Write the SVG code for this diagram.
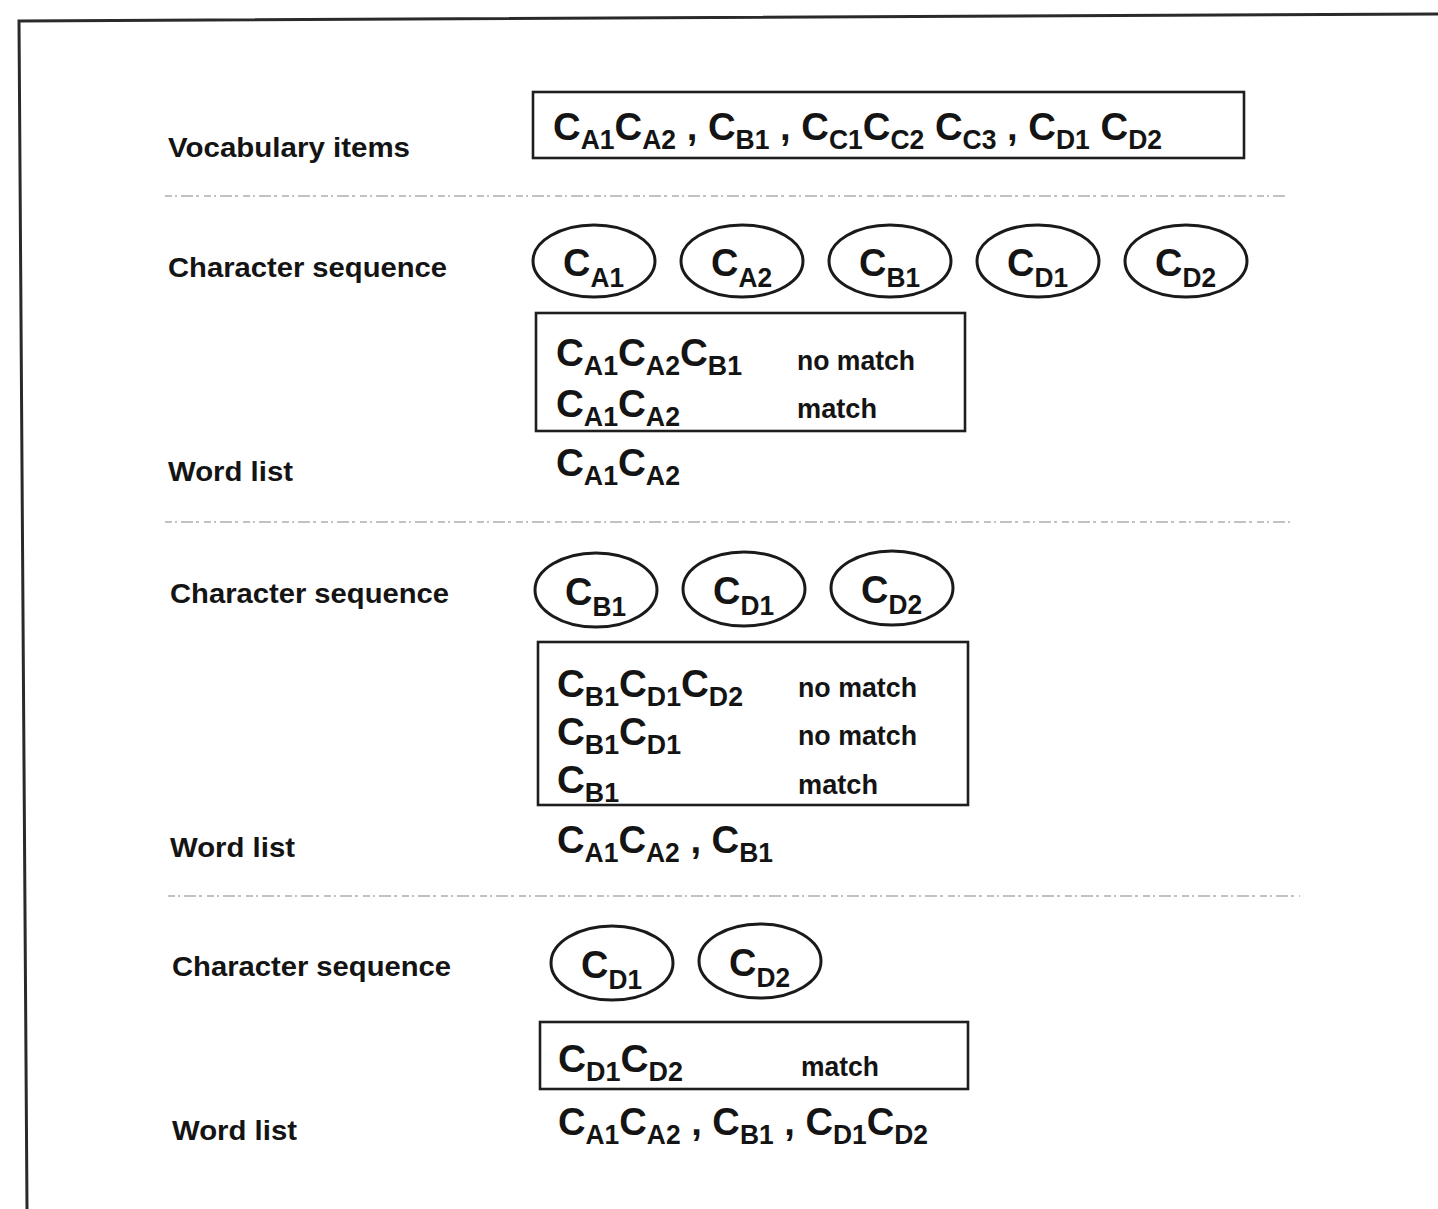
<svg xmlns="http://www.w3.org/2000/svg" width="1438" height="1209" viewBox="0 0 1438 1209">
  <style>
    .lbl { font-family: "Liberation Sans", Arial, sans-serif; font-weight: bold; font-size: 28.5px; fill: #141414; }
    .f { font-family: "Liberation Sans", Arial, sans-serif; font-weight: bold; font-size: 39px; fill: #141414; }
    .s { font-size: 27px; }
    .res { font-family: "Liberation Sans", Arial, sans-serif; font-weight: bold; font-size: 27px; fill: #141414; }
    .box { fill: none; stroke: #1e1e1e; stroke-width: 2.6; }
    .ell { fill: none; stroke: #1a1a1a; stroke-width: 3; }
    .sep { fill: none; stroke: #8a8a8a; stroke-width: 1.6; stroke-dasharray: 7 3 2 4 12 3 3 5; opacity: 0.7; }
    .frame { fill: none; stroke: #2a2a2a; stroke-width: 3; }
  </style>

  <rect width="1438" height="1209" fill="#ffffff"/>

  <!-- page frame -->
  <polyline class="frame" points="1438,14 19,21 27,1209"/>

  <!-- dotted separators between the steps -->
  <g id="separators">
    <line class="sep" x1="165" y1="196" x2="1285" y2="196"/>
    <line class="sep" x1="165" y1="522" x2="1290" y2="522"/>
    <line class="sep" x1="168" y1="896" x2="1300" y2="896"/>
  </g>

  <!-- row labels -->
  <g id="labels">
    <text class="lbl" x="168" y="157" textLength="242" lengthAdjust="spacingAndGlyphs">Vocabulary items</text>
    <text class="lbl" x="168" y="277" textLength="279" lengthAdjust="spacingAndGlyphs">Character sequence</text>
    <text class="lbl" x="168" y="481" textLength="125" lengthAdjust="spacingAndGlyphs">Word list</text>
    <text class="lbl" x="170" y="603" textLength="279" lengthAdjust="spacingAndGlyphs">Character sequence</text>
    <text class="lbl" x="170" y="857" textLength="125" lengthAdjust="spacingAndGlyphs">Word list</text>
    <text class="lbl" x="172" y="976" textLength="279" lengthAdjust="spacingAndGlyphs">Character sequence</text>
    <text class="lbl" x="172" y="1140" textLength="125" lengthAdjust="spacingAndGlyphs">Word list</text>
  </g>

  <!-- vocabulary -->
  <g id="vocabulary">
    <rect class="box" x="533" y="92" width="711" height="66"/>
    <text class="f" x="553" y="140" textLength="609" lengthAdjust="spacingAndGlyphs">C<tspan class="s" dy="9">A1</tspan><tspan dy="-9">C</tspan><tspan class="s" dy="9">A2</tspan><tspan dy="-9"> , C</tspan><tspan class="s" dy="9">B1</tspan><tspan dy="-9"> , C</tspan><tspan class="s" dy="9">C1</tspan><tspan dy="-9">C</tspan><tspan class="s" dy="9">C2</tspan><tspan dy="-9"> C</tspan><tspan class="s" dy="9">C3</tspan><tspan dy="-9"> , C</tspan><tspan class="s" dy="9">D1</tspan><tspan dy="-9"> C</tspan><tspan class="s" dy="9">D2</tspan></text>
  </g>

  <!-- step 1: character sequence -->
  <g id="seq1-a1"><ellipse class="ell" cx="594" cy="261" rx="61" ry="36"/><text class="f" x="563" y="276" textLength="61" lengthAdjust="spacingAndGlyphs">C<tspan class="s" dy="11">A1</tspan></text></g>
  <g id="seq1-a2"><ellipse class="ell" cx="742" cy="261" rx="61" ry="36"/><text class="f" x="711" y="276" textLength="61" lengthAdjust="spacingAndGlyphs">C<tspan class="s" dy="11">A2</tspan></text></g>
  <g id="seq1-b1"><ellipse class="ell" cx="890" cy="261" rx="61" ry="36"/><text class="f" x="859" y="276" textLength="61" lengthAdjust="spacingAndGlyphs">C<tspan class="s" dy="11">B1</tspan></text></g>
  <g id="seq1-d1"><ellipse class="ell" cx="1038" cy="261" rx="61" ry="36"/><text class="f" x="1007" y="276" textLength="61" lengthAdjust="spacingAndGlyphs">C<tspan class="s" dy="11">D1</tspan></text></g>
  <g id="seq1-d2"><ellipse class="ell" cx="1186" cy="261" rx="61" ry="36"/><text class="f" x="1155" y="276" textLength="61" lengthAdjust="spacingAndGlyphs">C<tspan class="s" dy="11">D2</tspan></text></g>

  <!-- step 1: matching -->
  <g id="match1">
    <rect class="box" x="536" y="313" width="429" height="118"/>
    <text class="f" x="556" y="366" textLength="186" lengthAdjust="spacingAndGlyphs">C<tspan class="s" dy="9">A1</tspan><tspan dy="-9">C</tspan><tspan class="s" dy="9">A2</tspan><tspan dy="-9">C</tspan><tspan class="s" dy="9">B1</tspan></text>
    <text class="res" x="797" y="370" textLength="118" lengthAdjust="spacingAndGlyphs">no match</text>
    <text class="f" x="556" y="417" textLength="124" lengthAdjust="spacingAndGlyphs">C<tspan class="s" dy="9">A1</tspan><tspan dy="-9">C</tspan><tspan class="s" dy="9">A2</tspan></text>
    <text class="res" x="797" y="418" textLength="80" lengthAdjust="spacingAndGlyphs">match</text>
  </g>
  <g id="words1">
    <text class="f" x="556" y="476" textLength="124" lengthAdjust="spacingAndGlyphs">C<tspan class="s" dy="9">A1</tspan><tspan dy="-9">C</tspan><tspan class="s" dy="9">A2</tspan></text>
  </g>

  <!-- step 2: character sequence -->
  <g id="seq2-b1"><ellipse class="ell" cx="596" cy="590" rx="61" ry="37"/><text class="f" x="565" y="605" textLength="61" lengthAdjust="spacingAndGlyphs">C<tspan class="s" dy="11">B1</tspan></text></g>
  <g id="seq2-d1"><ellipse class="ell" cx="744" cy="589" rx="61" ry="37"/><text class="f" x="713" y="604" textLength="61" lengthAdjust="spacingAndGlyphs">C<tspan class="s" dy="11">D1</tspan></text></g>
  <g id="seq2-d2"><ellipse class="ell" cx="892" cy="588" rx="61" ry="37"/><text class="f" x="861" y="603" textLength="61" lengthAdjust="spacingAndGlyphs">C<tspan class="s" dy="11">D2</tspan></text></g>

  <!-- step 2: matching -->
  <g id="match2">
    <rect class="box" x="538" y="642" width="430" height="163"/>
    <text class="f" x="557" y="697" textLength="186" lengthAdjust="spacingAndGlyphs">C<tspan class="s" dy="9">B1</tspan><tspan dy="-9">C</tspan><tspan class="s" dy="9">D1</tspan><tspan dy="-9">C</tspan><tspan class="s" dy="9">D2</tspan></text>
    <text class="res" x="798" y="697" textLength="119" lengthAdjust="spacingAndGlyphs">no match</text>
    <text class="f" x="557" y="745" textLength="124" lengthAdjust="spacingAndGlyphs">C<tspan class="s" dy="9">B1</tspan><tspan dy="-9">C</tspan><tspan class="s" dy="9">D1</tspan></text>
    <text class="res" x="798" y="745" textLength="119" lengthAdjust="spacingAndGlyphs">no match</text>
    <text class="f" x="557" y="793" textLength="62" lengthAdjust="spacingAndGlyphs">C<tspan class="s" dy="9">B1</tspan></text>
    <text class="res" x="798" y="794" textLength="80" lengthAdjust="spacingAndGlyphs">match</text>
  </g>
  <g id="words2">
    <text class="f" x="557" y="853" textLength="216" lengthAdjust="spacingAndGlyphs">C<tspan class="s" dy="9">A1</tspan><tspan dy="-9">C</tspan><tspan class="s" dy="9">A2</tspan><tspan dy="-9"> , C</tspan><tspan class="s" dy="9">B1</tspan></text>
  </g>

  <!-- step 3: character sequence -->
  <g id="seq3-d1"><ellipse class="ell" cx="612" cy="963" rx="61" ry="37"/><text class="f" x="581" y="978" textLength="61" lengthAdjust="spacingAndGlyphs">C<tspan class="s" dy="11">D1</tspan></text></g>
  <g id="seq3-d2"><ellipse class="ell" cx="760" cy="961" rx="61" ry="37"/><text class="f" x="729" y="976" textLength="61" lengthAdjust="spacingAndGlyphs">C<tspan class="s" dy="11">D2</tspan></text></g>

  <!-- step 3: matching -->
  <g id="match3">
    <rect class="box" x="540" y="1022" width="428" height="67"/>
    <text class="f" x="558" y="1072" textLength="125" lengthAdjust="spacingAndGlyphs">C<tspan class="s" dy="9">D1</tspan><tspan dy="-9">C</tspan><tspan class="s" dy="9">D2</tspan></text>
    <text class="res" x="801" y="1076" textLength="78" lengthAdjust="spacingAndGlyphs">match</text>
  </g>
  <g id="words3">
    <text class="f" x="558" y="1135" textLength="370" lengthAdjust="spacingAndGlyphs">C<tspan class="s" dy="9">A1</tspan><tspan dy="-9">C</tspan><tspan class="s" dy="9">A2</tspan><tspan dy="-9"> , C</tspan><tspan class="s" dy="9">B1</tspan><tspan dy="-9"> , C</tspan><tspan class="s" dy="9">D1</tspan><tspan dy="-9">C</tspan><tspan class="s" dy="9">D2</tspan></text>
  </g>
</svg>
